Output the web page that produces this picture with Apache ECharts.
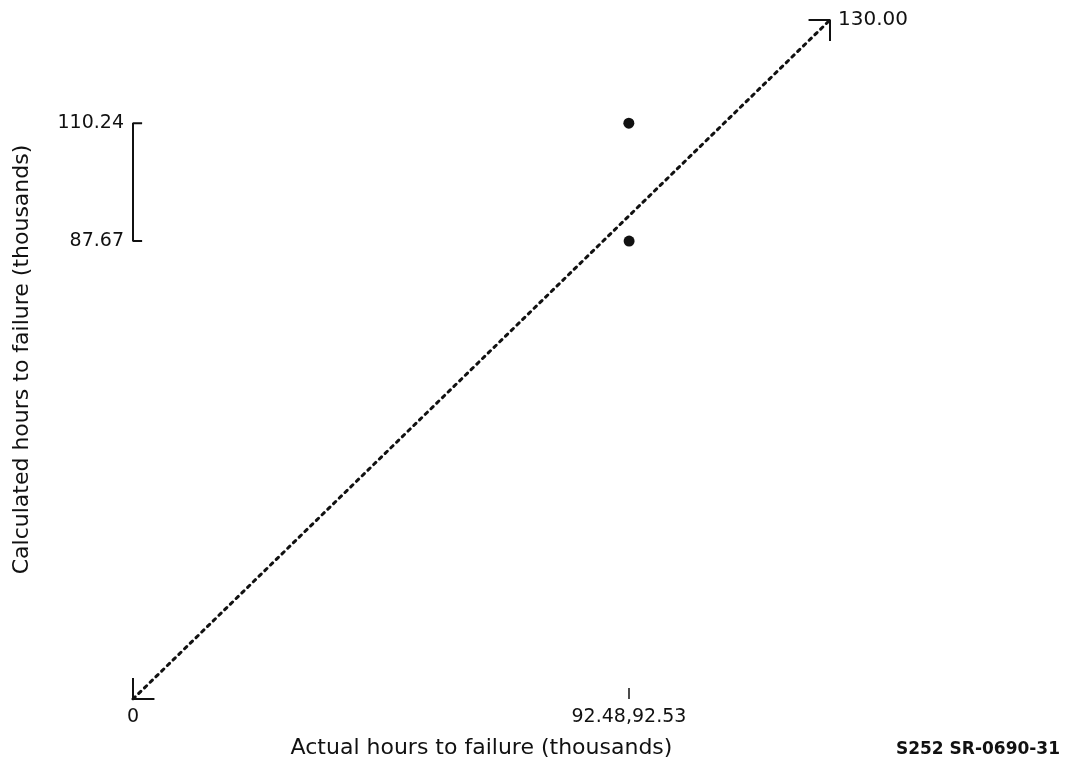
<!DOCTYPE html>
<html>
<head>
<meta charset="utf-8">
<script src="https://cdn.jsdelivr.net/npm/echarts@6/dist/echarts.min.js"></script>
<style>
  html, body { margin: 0; padding: 0; background: #fff; }
  #chart { width: 1068px; height: 775px; }
</style>
</head>
<body>
<div id="chart"></div>
<script>
var chartDom = document.getElementById('chart');
var myChart = echarts.init(chartDom);
var option;

// actual vs calculated hours to failure (thousands)
var actualHours = [92.48, 92.53];
var calculatedHours = [110.24, 87.67];
var xTickValues = [0, 92.5];
var xTickLabels = ['0', '92.48,92.53'];
var yRangeValues = [110.24, 87.67];
var yRangeLabels = ['110.24', '87.67'];
var lineStart = 0;
var lineEnd = 130;
var lineEndLabel = '130.00';
var arrowLen = 4;
var bracketLen = 1.7;

var points = actualHours.map(function (v, i) { return [v, calculatedHours[i]]; });
var fontFam = '"DejaVu Sans", Arial, sans-serif';

option = {
  animation: false,
  backgroundColor: '#fff',
  grid: { left: 133, right: 238, top: 20, bottom: 76 },
  xAxis: {
    type: 'value',
    min: lineStart,
    max: lineEnd,
    splitLine: { show: false },
    axisLine: { show: false },
    axisTick: {
      show: true,
      customValues: [xTickValues[1]],
      inside: true,
      length: 11,
      lineStyle: { color: '#111', width: 1.5 }
    },
    axisLabel: {
      customValues: xTickValues,
      margin: 9,
      fontSize: 19,
      fontFamily: fontFam,
      color: '#111',
      formatter: function (v) {
        var i = xTickValues.indexOf(v);
        return i >= 0 ? xTickLabels[i] : '';
      }
    },
    name: 'Actual hours to failure (thousands)',
    nameLocation: 'middle',
    nameGap: 38,
    nameTextStyle: { fontSize: 22, fontFamily: fontFam, color: '#111' }
  },
  yAxis: {
    type: 'value',
    min: lineStart,
    max: lineEnd,
    splitLine: { show: false },
    axisLine: { show: false },
    axisTick: { show: false },
    axisLabel: {
      customValues: yRangeValues,
      margin: 9,
      fontSize: 19,
      fontFamily: fontFam,
      color: '#111',
      formatter: function (v) {
        var i = yRangeValues.indexOf(v);
        return i >= 0 ? yRangeLabels[i] : '';
      }
    },
    name: 'Calculated hours to failure (thousands)',
    nameLocation: 'middle',
    nameGap: 100,
    nameTextStyle: { fontSize: 22, fontFamily: fontFam, color: '#111' }
  },
  graphic: [
    {
      type: 'text',
      style: {
        x: 1060, y: 750,
        text: 'S252 SR-0690-31',
        fontSize: 17,
        fontWeight: 'bold',
        fontFamily: fontFam,
        fill: '#111',
        align: 'right',
        verticalAlign: 'middle'
      }
    }
  ],
  series: [
    {
      // identity line with end label
      type: 'line',
      data: [[lineStart, lineStart], [lineEnd, lineEnd]],
      symbol: 'none',
      lineStyle: { color: '#111', width: 3, type: [3, 5], cap: 'round' },
      endLabel: {
        show: true,
        formatter: lineEndLabel,
        distance: 8,
        fontSize: 20,
        fontFamily: fontFam,
        color: '#111'
      },
      silent: true
    },
    {
      // arrow head at origin
      type: 'line',
      data: [[lineStart, lineStart + arrowLen], [lineStart, lineStart], [lineStart + arrowLen, lineStart]],
      symbol: 'none',
      lineStyle: { color: '#111', width: 2 },
      silent: true
    },
    {
      // arrow head at top end
      type: 'line',
      data: [[lineEnd - arrowLen, lineEnd], [lineEnd, lineEnd], [lineEnd, lineEnd - arrowLen]],
      symbol: 'none',
      lineStyle: { color: '#111', width: 2 },
      silent: true
    },
    {
      // range bracket on the y axis
      type: 'line',
      data: [
        [lineStart + bracketLen, yRangeValues[0]],
        [lineStart, yRangeValues[0]],
        [lineStart, yRangeValues[1]],
        [lineStart + bracketLen, yRangeValues[1]]
      ],
      symbol: 'none',
      lineStyle: { color: '#111', width: 2 },
      silent: true
    },
    {
      type: 'scatter',
      data: points,
      symbol: 'circle',
      symbolSize: 11,
      itemStyle: { color: '#111', opacity: 1 }
    }
  ]
};

option && myChart.setOption(option);
</script>
</body>
</html>
